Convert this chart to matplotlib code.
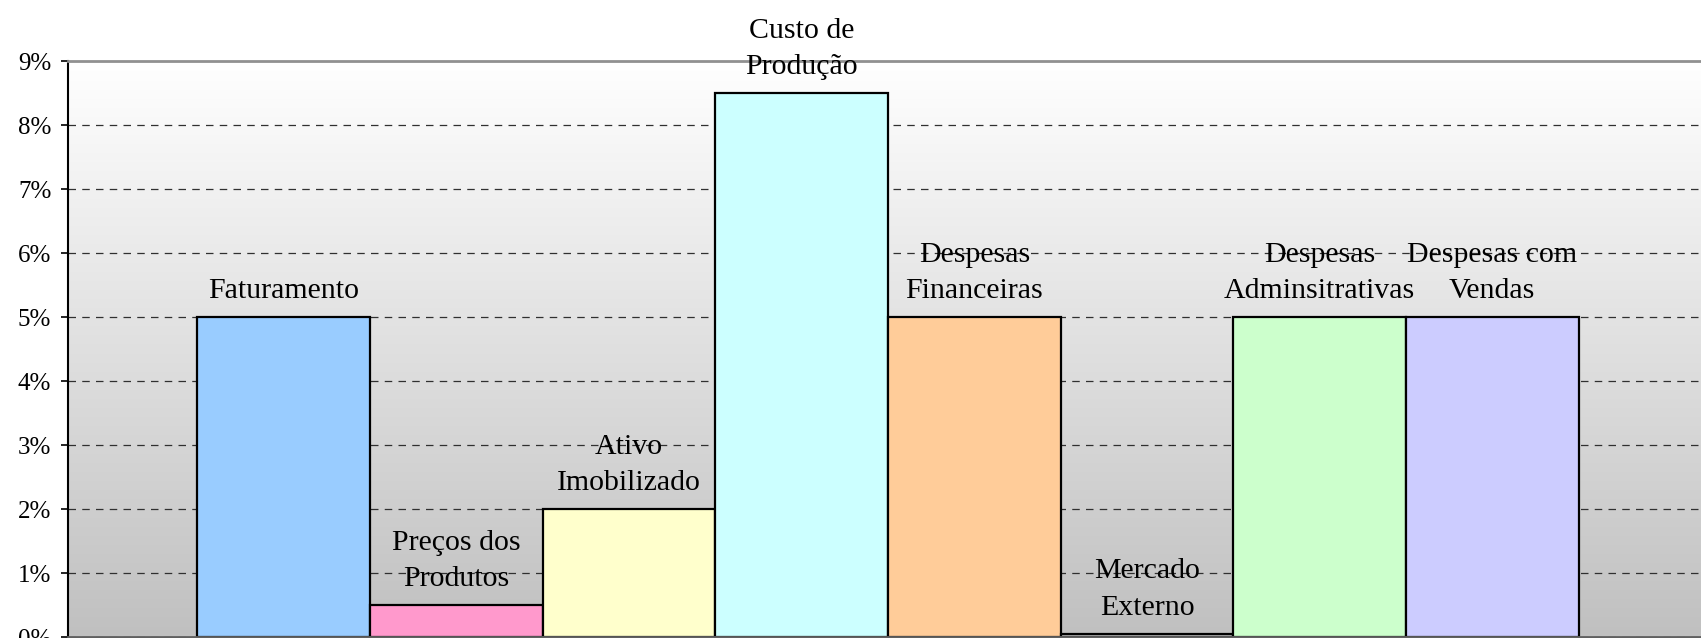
import matplotlib
matplotlib.use('Agg')
import matplotlib.pyplot as plt
import numpy as np
from matplotlib.ticker import FuncFormatter
from matplotlib.colors import LinearSegmentedColormap

# Data
categories = ['Faturamento', 'Preços dos\nProdutos', 'Ativo\nImobilizado', 'Custo de\nProdução',
              'Despesas\nFinanceiras', 'Mercado\nExterno', 'Despesas\nAdminsitrativas',
              'Despesas com\nVendas']
values = [5.0, 0.5, 2.0, 8.5, 5.0, 0.05, 5.0, 5.0]
colors = ['#99CCFF', '#FF99CC', '#FFFFCC', '#CCFFFF', '#FFCC99', '#C0C0C0', '#CCFFCC', '#CCCCFF']
yticks = [0, 1, 2, 3, 4, 5, 6, 7, 8, 9]

plt.rcParams['font.family'] = ['Liberation Serif', 'DejaVu Serif']

fig = plt.figure(figsize=(17.01, 6.38), dpi=100)
# axes runs slightly past the right edge of the figure, like the cropped original
ax = fig.add_axes([68 / 1701, 1 / 638, 1640 / 1701, 576 / 638])

x = np.arange(len(categories))
ax.set_xlim(-1.25, len(categories) + 0.25)
ax.set_ylim(0, 9)

# background gradient, white at top to gray at bottom
cmap = LinearSegmentedColormap.from_list('bg', ['#C0C0C0', '#FFFFFF'])
grad = np.linspace(0, 1, 256).reshape(-1, 1)
ax.imshow(grad, extent=(-1.25, len(categories) + 0.25, 0, 9), origin='lower',
          aspect='auto', cmap=cmap, zorder=0)

ax.set_yticks(yticks)
ax.yaxis.set_major_formatter(FuncFormatter(lambda v, p: f'{int(v)}%'))
ax.grid(axis='y', color='#303030', linestyle=(0, (6, 5)), linewidth=0.9)
ax.set_axisbelow(True)
# the top border is a solid gray line, no dashes over it
ax.yaxis.get_gridlines()[-1].set_visible(False)

bars = ax.bar(x, values, width=1.0, color=colors, edgecolor='black', linewidth=1.6, zorder=2)

for xi, v, lab in zip(x, values, categories):
    ax.annotate(lab, (xi, v), xytext=(0, 9), textcoords='offset points',
                ha='center', va='bottom', fontsize=21.5, linespacing=1.55, zorder=3)

ax.set_xticks([])
ax.tick_params(axis='y', length=5, width=1.2, pad=7, labelsize=18, direction='out')
ax.spines['top'].set_color('#909090')
ax.spines['top'].set_linewidth(2)
ax.spines['left'].set_color('black')
ax.spines['left'].set_linewidth(1.5)
ax.spines['bottom'].set_color('#606060')
ax.spines['bottom'].set_linewidth(2)
ax.spines['right'].set_visible(False)

fig.savefig('out.png', dpi=100, facecolor='white')
